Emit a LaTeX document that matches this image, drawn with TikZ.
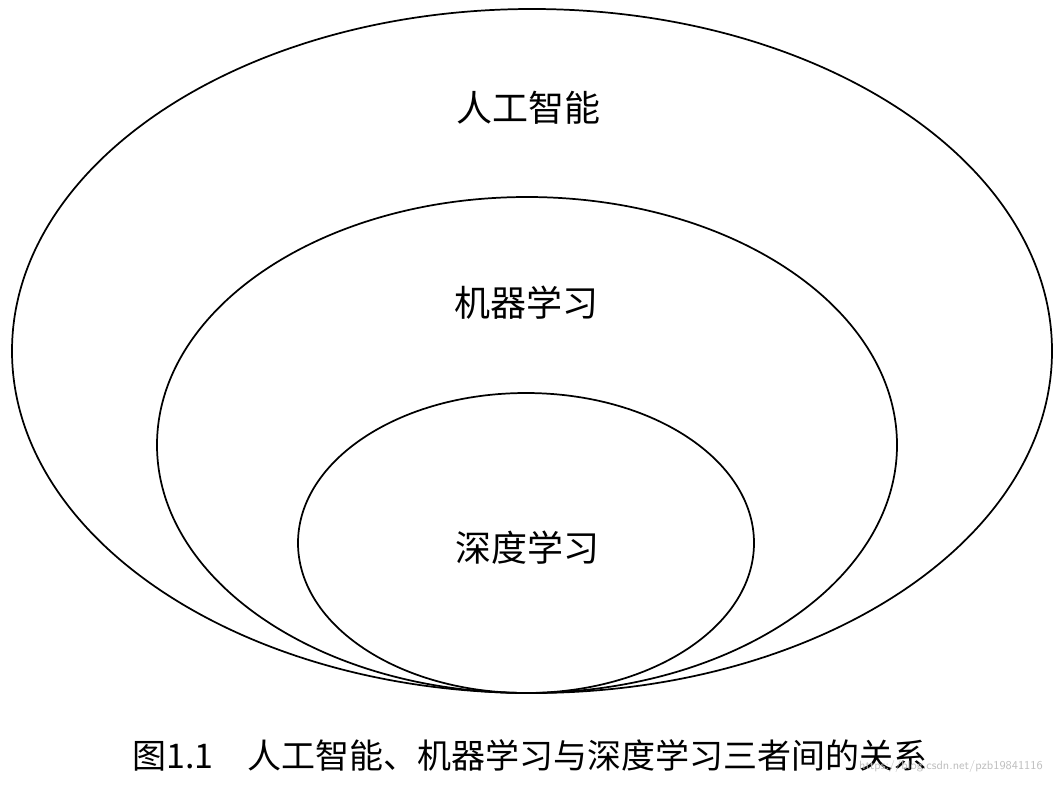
\documentclass[tikz,border=0pt]{standalone}
\usepackage{fontspec}
\newfontfamily\cjk{Noto Sans CJK SC}
\begin{document}
\begin{tikzpicture}[x=0.75pt,y=-0.75pt,line width=1.3pt,
  lab/.style={font=\cjk\fontsize{27}{31}\selectfont}]
\useasboundingbox (0,0) rectangle (1056,786);
\draw (532,351) ellipse [x radius=520,y radius=342];
\draw (527,445) ellipse [x radius=370,y radius=248];
\draw (526,543) ellipse [x radius=228,y radius=150];
\node[lab] (ai) at (528,108) {人工智能};
\node[lab] (ml) at (526,303) {机器学习};
\node[lab] (dl) at (527,548) {深度学习};
\node[font=\cjk\fontsize{25.5}{29}\selectfont] (cap) at (530,755) {图1.1\quad 人工智能、机器学习与深度学习三者间的关系};
\node[font=\sffamily\fontsize{9}{10}\selectfont,text=black!25,anchor=east] (wm) at (1048,766) {https://blog.csdn.net/pzb19841116};
\end{tikzpicture}
\end{document}
